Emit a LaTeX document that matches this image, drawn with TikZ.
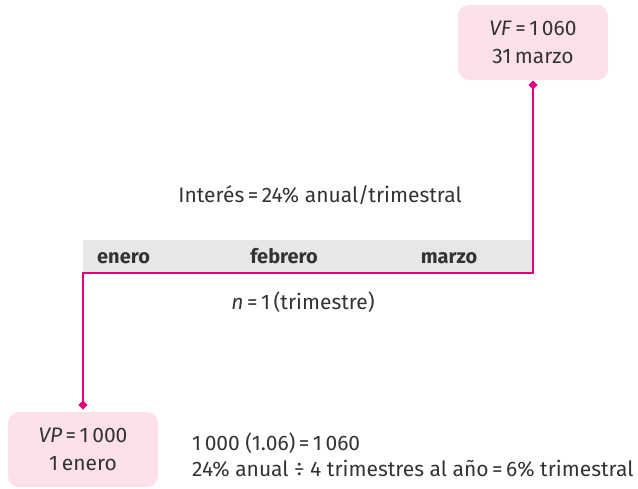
\documentclass[tikz,border=0pt]{standalone}
\usepackage{fontspec}
\setmainfont{Fira Sans}
\usetikzlibrary{shapes.geometric}
\definecolor{mag}{HTML}{E4007F}
\definecolor{boxpink}{HTML}{FCE1EA}
\definecolor{band}{HTML}{E6E7E8}
\definecolor{txt}{HTML}{333333}
\tikzset{
  lbl/.style={text=txt, font=\fontsize{21}{26}\selectfont, inner sep=0pt, anchor=base},
  mon/.style={text=txt, font=\fontsize{20}{24}\selectfont\bfseries, inner sep=0pt, anchor=base},
  valbox/.style={fill=boxpink, rounded corners=11pt, minimum width=150pt, minimum height=75pt, align=center, text=txt, font=\fontsize{21}{28}\selectfont, inner sep=0pt},
  conn/.style={draw=mag, line width=2pt},
  dot/.style={diamond, fill=mag, minimum width=9pt, minimum height=9pt, inner sep=0pt}
}
\begin{document}
\begin{tikzpicture}[x=1pt,y=-1pt]
\useasboundingbox (0,0) rectangle (638,488);
\fill[band] (83,240) rectangle (533,273);
\node[valbox] (vf) at (533,42.5) {\textit{VF}\,=\,1\,060\\31\,marzo};
\node[valbox] (vp) at (83,449.5) {\textit{VP}\,=\,1\,000\\1\,enero};
\node[dot] (dtop) at (533,85) {};
\node[dot] (dbot) at (83,405) {};
\coordinate (br) at (533,273);
\coordinate (bl) at (83,273);
\draw[conn] (dtop.center) -- (br) -- (bl) -- (dbot.center);
\node[dot] at (533,85) {};
\node[dot] at (83,405) {};
\node[mon, anchor=base west] (ene) at (97,263) {enero};
\node[mon] (feb) at (284,263) {febrero};
\node[mon] (mar) at (449,263) {marzo};
\node[lbl] (int) at (320,202) {Interés\,=\,24\%\ anual/trimestral};
\node[lbl] (n) at (303,309) {\textit{n}\,=\,1\,(trimestre)};
\node[lbl, anchor=base west] (c1) at (192,450) {1\,000 (1.06)\,=\,1\,060};
\node[lbl, anchor=base west] (c2) at (192,476) {24\%\ anual ÷ 4 trimestres al año\,=\,6\%\ trimestral};
\end{tikzpicture}
\end{document}
